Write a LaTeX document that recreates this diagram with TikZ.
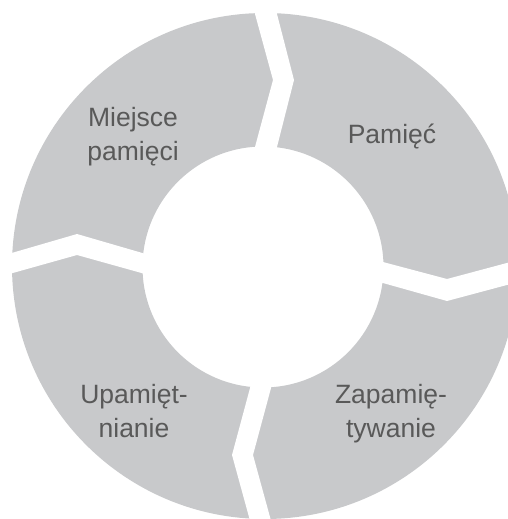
\documentclass[tikz,border=0pt]{standalone}
\usepackage{fontspec}
\setmainfont{Liberation Sans}
\usepackage{tikz}
\definecolor{ringgrey}{RGB}{200,201,203}
\definecolor{textgrey}{RGB}{89,89,89}

\begin{document}
\begin{tikzpicture}[x=1pt,y=-1pt]
			\tikzstyle{every node}=[font=\fontsize{26.5}{34}\selectfont, text=textgrey, align=center, inner sep=0pt]
			\useasboundingbox (0,0) rectangle (507,519);
			
			% ring
			\fill [ringgrey, even odd rule] (265,266) circle [radius=253pt] (263,267) circle [radius=120.5pt];
			
			% chevron gaps between the four parts
			\fill [white] (249.6,167) -- (273,80) -- (249,-8) -- (271.3,-8) -- (294,80) -- (271.9,167) -- cycle;
			\fill [white] (363,256.7) -- (447,279) -- (530,256.8) -- (530,278.8) -- (447,301) -- (363,277.4) -- cycle;
			\fill [white] (255.4,368) -- (232,455) -- (255.3,540) -- (276.3,540) -- (253,455) -- (276.4,368) -- cycle;
			\fill [white] (-10,259.3) -- (77,234) -- (163,259) -- (163,279) -- (77,255) -- (-10,279.4) -- cycle;
			
			\node (miejsce) at (133,137) {Miejsce\\pamięci};
			\node (pamiec) [anchor=base] at (392,143) {Pamięć};
			\node (upamiet) at (134,411) {Upamięt-\\nianie};
			\node (zapamiet) at (391,414) {Zapamię-\\tywanie};
			
\end{tikzpicture}
\end{document}
